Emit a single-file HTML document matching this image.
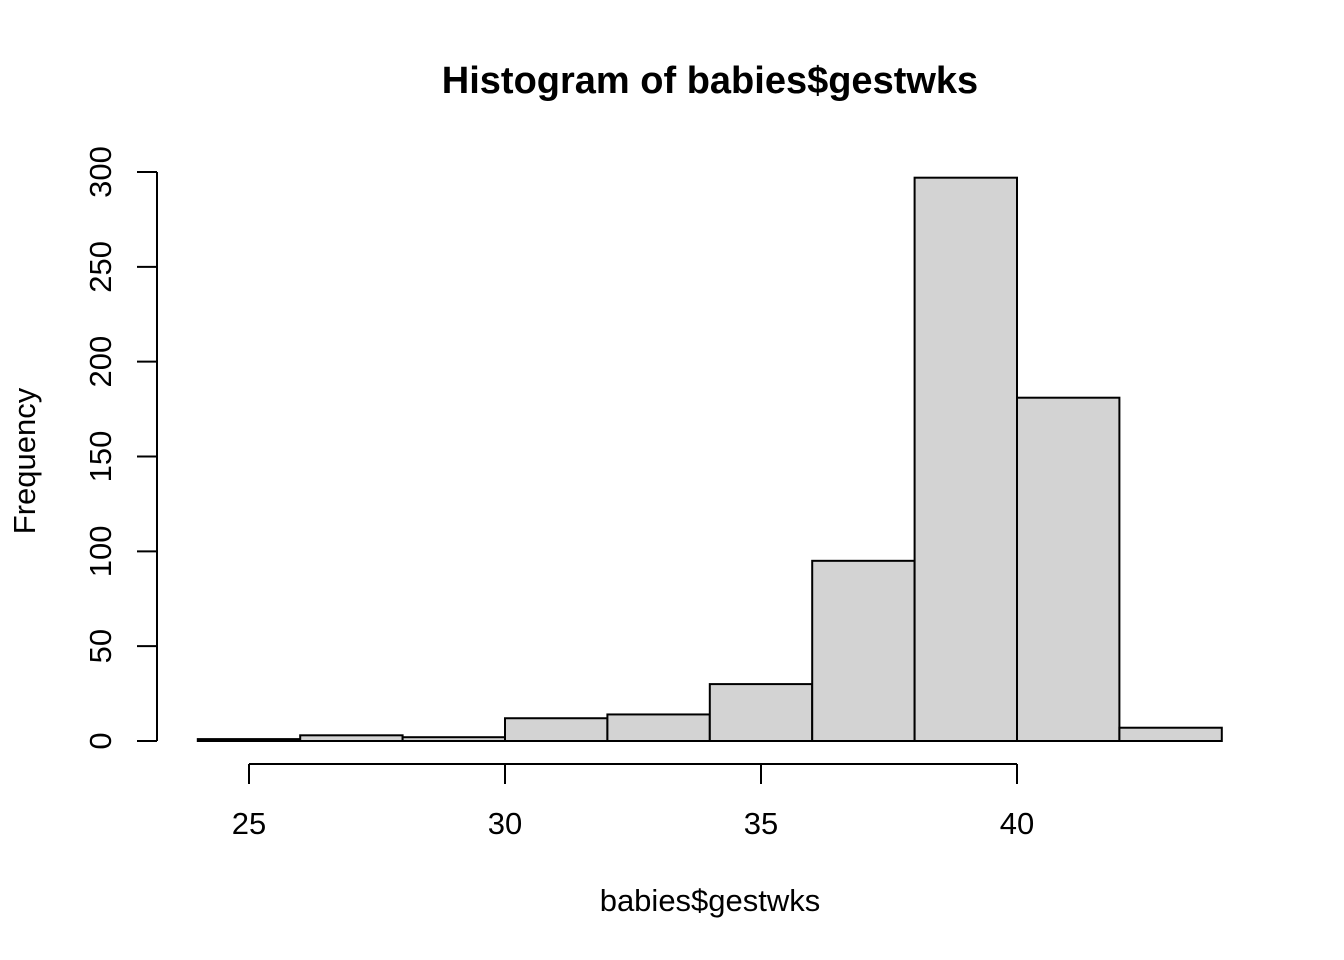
<!DOCTYPE html>
<html><head><meta charset="utf-8"><style>
body{margin:0;background:#fff}
svg{display:block;font-family:"Liberation Sans",Arial,sans-serif}
</style></head><body>
<svg id="chart" width="1344" height="960">
<rect width="1344" height="960" fill="#fff"/>
<text x="710" y="93" text-anchor="middle" font-size="38" font-weight="bold">Histogram of babies$gestwks</text>
<text x="710" y="911" text-anchor="middle" font-size="31">babies$gestwks</text>
<text transform="translate(35,461) rotate(-90)" text-anchor="middle" font-size="31">Frequency</text>
<g id="bars"></g><g id="xaxis"></g><g id="yaxis"></g>
</svg>
<script>
const binStarts=[24,26,28,30,32,34,36,38,40,42];
const binWidth=2;
const counts=[1,3,2,12,14,30,95,297,181,7];
const xTicks=[25,30,35,40];
const yTicks=[0,50,100,150,200,250,300];
const NS="http://www.w3.org/2000/svg";
const X=v=>249+(v-25)*51.2;
const Y=v=>741-v*(569/300);
function mk(t,a,p){const e=document.createElementNS(NS,t);for(const k in a)e.setAttribute(k,a[k]);p.appendChild(e);return e;}
const bars=document.getElementById('bars');
binStarts.forEach((s,i)=>{
 const r=mk('rect',{x:X(s),y:Y(counts[i]),width:X(s+binWidth)-X(s),height:Y(0)-Y(counts[i]),fill:'#d3d3d3',stroke:'#000','stroke-width':2},bars);
 
 
});
const xa=document.getElementById('xaxis');
const xl=mk('line',{x1:X(xTicks[0]),x2:X(xTicks[xTicks.length-1]),y1:764,y2:764,stroke:'#000','stroke-width':2},xa);


xTicks.forEach(v=>{
 mk('line',{x1:X(v),x2:X(v),y1:764,y2:784,stroke:'#000','stroke-width':2},xa);
 const t=mk('text',{x:X(v),y:834,'text-anchor':'middle','font-size':31},xa);t.textContent=v;
 
 
});
const ya=document.getElementById('yaxis');
const yl=mk('line',{x1:157,x2:157,y1:Y(yTicks[0]),y2:Y(yTicks[yTicks.length-1]),stroke:'#000','stroke-width':2},ya);


yTicks.forEach(v=>{
 mk('line',{x1:137,x2:157,y1:Y(v),y2:Y(v),stroke:'#000','stroke-width':2},ya);
 const t=mk('text',{transform:`translate(111,${Y(v)}) rotate(-90)`,'text-anchor':'middle','font-size':31},ya);t.textContent=v;
 
 
});
</script>
</body></html>
